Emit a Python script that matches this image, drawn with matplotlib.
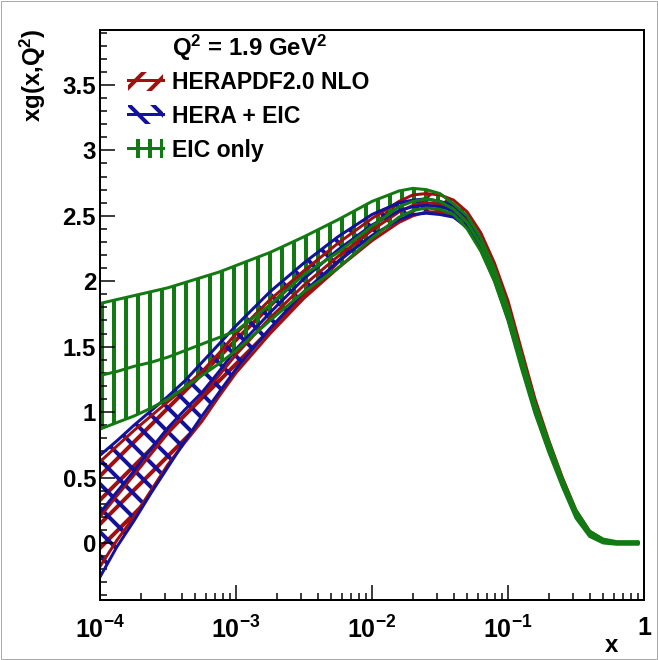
import matplotlib
matplotlib.use("Agg")
import matplotlib.pyplot as plt
from matplotlib.patches import Patch, Rectangle
from matplotlib.lines import Line2D
from matplotlib.ticker import FixedLocator, FixedFormatter, LogLocator, NullFormatter, MultipleLocator

plt.rcParams['font.family'] = ['Liberation Sans', 'DejaVu Sans']
plt.rcParams['font.weight'] = 'bold'
plt.rcParams['mathtext.fontset'] = 'custom'
plt.rcParams['mathtext.rm'] = 'Liberation Sans:bold'
plt.rcParams['mathtext.it'] = 'Liberation Sans:bold'
plt.rcParams['mathtext.bf'] = 'Liberation Sans:bold'
plt.rcParams['mathtext.default'] = 'rm'
plt.rcParams['hatch.linewidth'] = 4.0

# x grid
x = [1e-4, 1.33e-4, 1.78e-4, 2.37e-4, 3.16e-4, 4.22e-4, 5.62e-4, 7.5e-4, 1e-3,
     1.78e-3, 3.16e-3, 5.62e-3, 1e-2, 1.58e-2, 2e-2, 2.51e-2, 3.16e-2, 3.98e-2, 5.01e-2,
     6.31e-2, 7.94e-2, 0.1, 0.126, 0.158, 0.2, 0.251, 0.316, 0.398, 0.5, 0.631, 0.9]

# HERAPDF2.0 NLO
hera_c = [0.20, 0.36, 0.52, 0.68, 0.84, 0.98, 1.12, 1.28, 1.44,
          1.72, 1.97, 2.19, 2.39, 2.53, 2.58, 2.60, 2.59, 2.56, 2.47, 2.30, 2.07, 1.78,
          1.41, 1.05, 0.74, 0.47, 0.23, 0.08, 0.02, 0.0, 0.0]
hera_hi = [0.62, 0.74, 0.86, 0.97, 1.08, 1.19, 1.31, 1.45, 1.60,
           1.86, 2.08, 2.29, 2.48, 2.61, 2.66, 2.67, 2.66, 2.62, 2.53, 2.37, 2.14, 1.85,
           1.47, 1.10, 0.78, 0.50, 0.25, 0.09, 0.025, 0.005, 0.0]
hera_lo = [-0.18, 0.02, 0.20, 0.40, 0.60, 0.77, 0.93, 1.12, 1.30,
           1.60, 1.87, 2.10, 2.31, 2.45, 2.50, 2.53, 2.53, 2.50, 2.41, 2.24, 2.01, 1.72,
           1.36, 1.01, 0.71, 0.45, 0.21, 0.07, 0.015, 0.0, 0.0]

# HERA + EIC
heic_c = [0.23, 0.39, 0.55, 0.72, 0.88, 1.02, 1.15, 1.31, 1.48,
          1.76, 2.02, 2.24, 2.43, 2.54, 2.57, 2.58, 2.57, 2.54, 2.45, 2.28, 2.05, 1.75,
          1.38, 1.03, 0.73, 0.46, 0.22, 0.07, 0.015, 0.0, 0.0]
heic_hi = [0.67, 0.78, 0.90, 1.01, 1.12, 1.24, 1.38, 1.52, 1.66,
           1.92, 2.14, 2.34, 2.51, 2.60, 2.62, 2.63, 2.61, 2.58, 2.49, 2.32, 2.09, 1.79,
           1.41, 1.06, 0.75, 0.48, 0.23, 0.08, 0.02, 0.0, 0.0]
heic_lo = [-0.26, -0.03, 0.17, 0.38, 0.58, 0.78, 0.97, 1.15, 1.33,
           1.64, 1.92, 2.15, 2.35, 2.47, 2.51, 2.52, 2.51, 2.49, 2.41, 2.24, 2.01, 1.71,
           1.35, 1.00, 0.71, 0.44, 0.21, 0.06, 0.01, 0.0, 0.0]

# EIC only
eic_c = [1.28, 1.31, 1.35, 1.38, 1.42, 1.47, 1.52, 1.57, 1.62,
         1.82, 2.05, 2.22, 2.42, 2.57, 2.61, 2.63, 2.61, 2.55, 2.45, 2.28, 2.05, 1.75,
         1.38, 1.03, 0.73, 0.46, 0.22, 0.07, 0.015, 0.0, 0.0]
eic_hi = [1.83, 1.86, 1.89, 1.92, 1.95, 1.99, 2.03, 2.07, 2.12,
          2.22, 2.34, 2.47, 2.61, 2.69, 2.71, 2.70, 2.67, 2.59, 2.50, 2.33, 2.10, 1.80,
          1.43, 1.07, 0.77, 0.49, 0.25, 0.09, 0.03, 0.01, 0.01]
eic_lo = [0.87, 0.92, 0.97, 1.03, 1.10, 1.19, 1.28, 1.37, 1.47,
          1.70, 1.92, 2.10, 2.33, 2.49, 2.54, 2.56, 2.55, 2.51, 2.40, 2.23, 2.00, 1.70,
          1.33, 0.99, 0.69, 0.43, 0.19, 0.05, 0.0, -0.01, -0.01]

labels = ['HERAPDF2.0 NLO', 'HERA + EIC', 'EIC only']
colors = ['#a01010', '#12129c', '#137a13']
hatches = ['/', '\\', '|']
bands = [(hera_lo, hera_c, hera_hi), (heic_lo, heic_c, heic_hi), (eic_lo, eic_c, eic_hi)]

fig = plt.figure(figsize=(658 / 72, 660 / 72), dpi=72)
ax = fig.add_axes([100 / 658, 1 - 600 / 660, 544 / 658, 570 / 660])

for (lo, c, hi), col, h in zip(bands, colors, hatches):
    coll = ax.fill_between(x, lo, hi, facecolor='none', edgecolor=col, hatch=h, linewidth=0)
    if hasattr(coll, 'set_hatch_linewidth'):
        coll.set_hatch_linewidth(4.0)
    ax.plot(x, lo, color=col, lw=3)
    ax.plot(x, hi, color=col, lw=3)
    ax.plot(x, c, color=col, lw=3)

ax.set_xscale('log')
ax.set_xlim(1e-4, 1)
ax.set_ylim(-0.436, 3.92)

ax.xaxis.set_major_locator(FixedLocator([1e-4, 1e-3, 1e-2, 1e-1, 1]))
ax.xaxis.set_major_formatter(FixedFormatter(['$10^{-4}$', '$10^{-3}$', '$10^{-2}$', '$10^{-1}$', '1']))
ax.xaxis.set_minor_locator(LogLocator(base=10, subs=range(2, 10)))
ax.xaxis.set_minor_formatter(NullFormatter())
yt = [0, 0.5, 1, 1.5, 2, 2.5, 3, 3.5]
ax.yaxis.set_major_locator(FixedLocator(yt))
ax.yaxis.set_major_formatter(FixedFormatter(['0', '0.5', '1', '1.5', '2', '2.5', '3', '3.5']))
ax.yaxis.set_minor_locator(MultipleLocator(0.1))

ax.tick_params(which='both', direction='in', top=False, right=False, width=1.5)
ax.tick_params(which='major', length=15)
ax.tick_params(which='minor', length=7)
ax.tick_params(axis='y', pad=4, labelsize=24)
ax.tick_params(axis='x', pad=16, labelsize=25)
for s in ax.spines.values():
    s.set_linewidth(2)

fig.text(33 / 658, 1 - 28 / 660, 'xg(x,Q$^2$)', rotation=90, ha='center', va='top', fontsize=24)
fig.text(612 / 658, 1 - 645 / 660, 'x', ha='center', va='center', fontsize=24)
fig.text(172 / 658, 1 - 48 / 660, 'Q$^2$ = 1.9 GeV$^2$', ha='left', va='center', fontsize=24)

handles = []
for col, h in zip(colors, hatches):
    p = Patch(facecolor='none', edgecolor=col, hatch=h, lw=0)
    if hasattr(p, 'set_hatch_linewidth'):
        p.set_hatch_linewidth(4.0)
    handles.append((p, Line2D([], [], color=col, lw=3)))
ax.legend(handles, labels, loc='upper left', bbox_to_anchor=(128 / 658, 1 - 71 / 660),
          bbox_transform=fig.transFigure, frameon=False,
          prop={'family': 'Liberation Sans', 'weight': 'bold', 'size': 23},
          handlelength=1.5, handleheight=0.9, handletextpad=0.4, labelspacing=0.47,
          borderpad=0, borderaxespad=0)

fig.patches.append(Rectangle((0.002, 0.002), 0.996, 0.996, transform=fig.transFigure,
                             fill=False, edgecolor='#aaaaaa', lw=1))

fig.savefig('out.png', dpi=72)
